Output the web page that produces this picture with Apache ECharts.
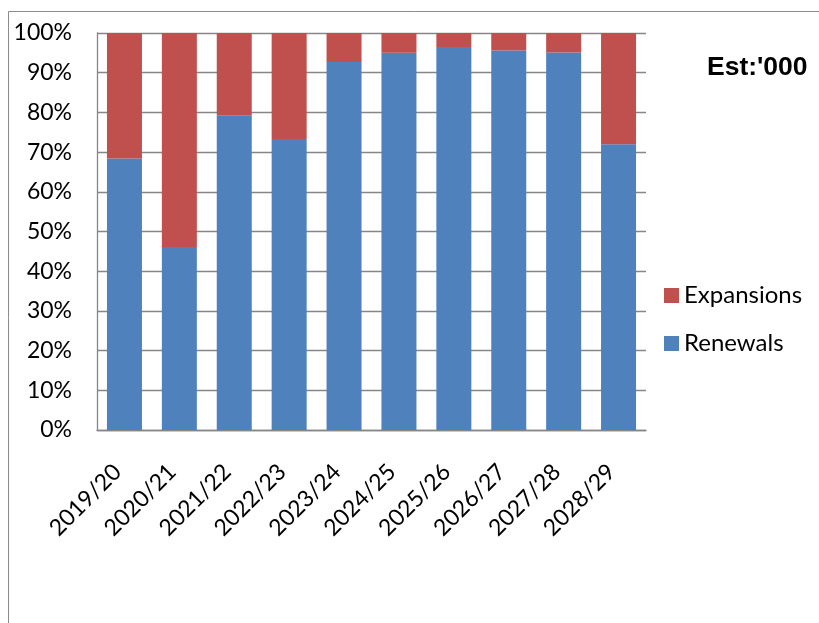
<!DOCTYPE html>
<html>
<head>
<meta charset="utf-8">
<script src="https://cdn.jsdelivr.net/npm/echarts@6/dist/echarts.min.js"></script>
<style>
html,body{margin:0;padding:0;background:#fff;}
#chart{width:819px;height:623px;}
</style>
</head>
<body>
<div id="chart"></div>
<script>
var categories = ['2019/20','2020/21','2021/22','2022/23','2023/24','2024/25','2025/26','2026/27','2027/28','2028/29'];
var renewals = [68.4, 46.1, 79.3, 73.3, 92.7, 95.0, 96.5, 95.6, 95.1, 72.0];
var expansions = [31.6, 53.9, 20.7, 26.7, 7.3, 5.0, 3.5, 4.4, 4.9, 28.0];
var yTicks = [0,10,20,30,40,50,60,70,80,90,100];

var FONT = 'Lato';
var chart = echarts.init(document.getElementById('chart'), null, {renderer:'canvas'});
chart.setOption({
  animation: false,
  backgroundColor: '#fff',
  graphic: [
    {type:'rect', shape:{x:8.5, y:11.5, width:1200, height:1200}, style:{fill:'none', stroke:'#8c8c8c', lineWidth:1}, silent:true},
    {type:'text', x:707, y:68, style:{text:"Est:'000", font:'bold 26.5px "Liberation Sans"', fill:'#000', verticalAlign:'middle', align:'left'}}
  ],
  legend: {
    orient:'vertical',
    left:664, top:283.5, padding:0,
    itemWidth:15, itemHeight:15, itemGap:24,
    icon:'rect',
    data:['Expansions','Renewals'],
    textStyle:{fontFamily:FONT, fontSize:24, color:'#000', lineHeight:24}
  },
  grid: {left:97, right:173, top:33, bottom:193, containLabel:false},
  xAxis: {
    type:'category', data:categories,
    axisLine:{show:true, lineStyle:{color:'#868686', width:1.3}},
    axisTick:{show:false},
    axisLabel:{rotate:45, margin:31, padding:[0,10,0,0], fontFamily:FONT, fontSize:23, color:'#000', interval:0}
  },
  yAxis: {
    type:'value', min:0, max:100, interval:10,
    axisLine:{show:true, lineStyle:{color:'#868686', width:1.3}},
    axisTick:{show:false},
    splitLine:{show:true, lineStyle:{color:'#868686', width:1.3}},
    axisLabel:{margin:25, fontFamily:FONT, fontSize:23, color:'#000', formatter:function(v){return v+'%';}}
  },
  series: [
    {name:'Renewals', type:'bar', stack:'s', data:renewals, barWidth:35, itemStyle:{color:'#4F81BD'}},
    {name:'Expansions', type:'bar', stack:'s', data:expansions, barWidth:35, itemStyle:{color:'#C0504D'}}
  ]
});
</script>
</body>
</html>
